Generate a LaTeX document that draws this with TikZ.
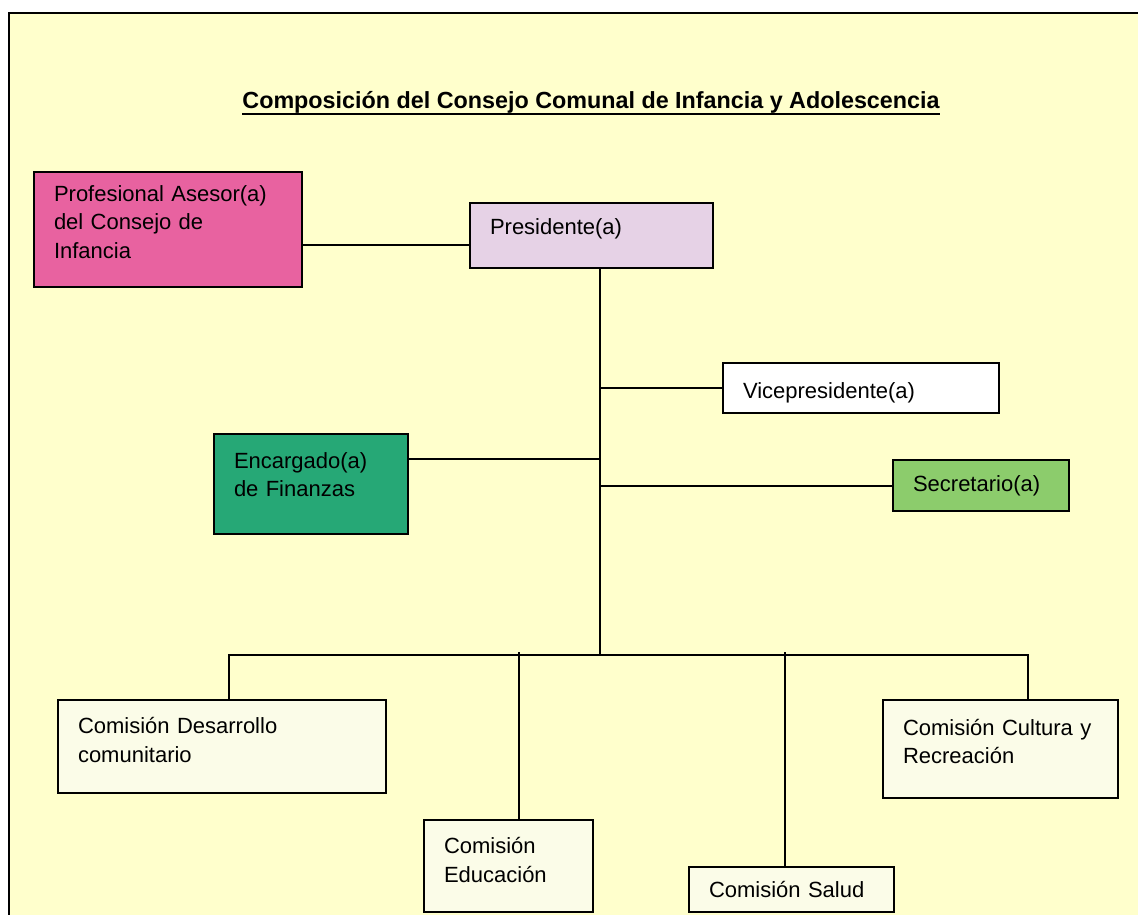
\documentclass[tikz,border=0pt]{standalone}
\usepackage{fontspec}
\setmainfont{Liberation Sans}
\usepackage{tikz}
\usetikzlibrary{positioning, calc}

\definecolor{paper}{RGB}{255,255,204}
\definecolor{asesorpink}{RGB}{232,98,160}
\definecolor{preslila}{RGB}{230,210,230}
\definecolor{finteal}{RGB}{38,168,118}
\definecolor{secgreen}{RGB}{140,204,108}
\definecolor{comlight}{RGB}{251,252,232}

% push the text of a box up (depth) or down (height)
\newcommand{\txtlift}[1]{\rule[-#1]{0pt}{0pt}}
\newcommand{\txtdrop}[1]{\rule{0pt}{#1}}

\tikzset{
    orgbox/.style={draw=black, line width=1pt, anchor=north west, align=left,
        inner xsep=10pt, inner ysep=0pt, font=\fontsize{11}{14.2}\selectfont},
    link/.style={draw=black, line width=1pt},
}

\begin{document}
\begin{tikzpicture}[x=0.5pt, y=-0.5pt]
    \useasboundingbox (0,0) rectangle (1138,914);
    \clip (0,0) rectangle (1138,914);

    % sheet
    \fill[paper] (9,13) rectangle (1160,940);
    \draw[line width=1pt] (9,940) -- (9,13) -- (1160,13);

    % title
    \node[anchor=base, inner sep=0pt, font=\fontsize{11.66}{14}\selectfont\bfseries]
        (title) at (591,109) {Composición del Consejo Comunal de Infancia y Adolescencia};
    \draw[line width=1.2pt]
        ([yshift=-2.6pt]title.base west) -- ([yshift=-2.6pt]title.base east);

    % upper boxes
    \node[orgbox, fill=asesorpink, minimum width=134pt, minimum height=57.5pt, text width=114pt]
        (asesor) at (33,171) {Profesional Asesor(a)\\del Consejo de\\Infancia\txtlift{7.5pt}};
    \node[orgbox, fill=preslila, minimum width=121.5pt, minimum height=32.5pt, text width=101.5pt]
        (pres) at (469,202) {Presidente(a)\txtlift{9pt}};
    \node[orgbox, fill=white, minimum width=138pt, minimum height=25pt, text width=118pt]
        (vice) at (722,362) {\txtdrop{13pt}Vicepresidente(a)};
    \node[orgbox, fill=finteal, minimum width=97pt, minimum height=50pt, text width=77pt]
        (finanzas) at (213,433) {Encargado(a)\\de Finanzas\txtlift{9.5pt}};
    \node[orgbox, fill=secgreen, minimum width=88pt, minimum height=25.5pt, text width=68pt]
        (secre) at (892,459) {Secretario(a)};

    % commissions
    \node[orgbox, fill=comlight, minimum width=164pt, minimum height=46.5pt, text width=144pt]
        (desarrollo) at (57,699) {Comisión Desarrollo\\comunitario\txtlift{6.5pt}};
    \node[orgbox, fill=comlight, minimum width=84.5pt, minimum height=46pt, text width=64.5pt]
        (educacion) at (423,819) {Comisión\\Educación\txtlift{6pt}};
    \node[orgbox, fill=comlight, minimum width=102.5pt, minimum height=22.5pt, text width=82.5pt]
        (salud) at (688,866) {Comisión Salud};
    \node[orgbox, fill=comlight, minimum width=117.5pt, minimum height=49pt, text width=97.5pt]
        (cultura) at (882,699) {Comisión Cultura y\\Recreación\txtlift{7.5pt}};

    % junctions
    \coordinate (hub) at (600,655);
    \coordinate (lc) at (228.5,655);
    \coordinate (rc) at (1028,655);
    \coordinate (ej) at (519,652);
    \coordinate (sj) at (785,652);

    % connectors
    \draw[link] (asesor.east |- 0,245) -- (pres.west |- 0,245);
    \draw[link] (pres.south -| hub) -- (hub);
    \draw[link] (hub |- vice.west) -- (vice.west);
    \draw[link] (finanzas.east |- 0,459) -- (hub |- 0,459);
    \draw[link] (hub |- secre.west) -- (secre.west);

    \draw[link] (desarrollo.north -| lc) -- (lc) -- (rc) -- (cultura.north -| rc);
    \draw[link] (ej) -- (educacion.north -| ej);
    \draw[link] (sj) -- (salud.north -| sj);
\end{tikzpicture}
\end{document}
